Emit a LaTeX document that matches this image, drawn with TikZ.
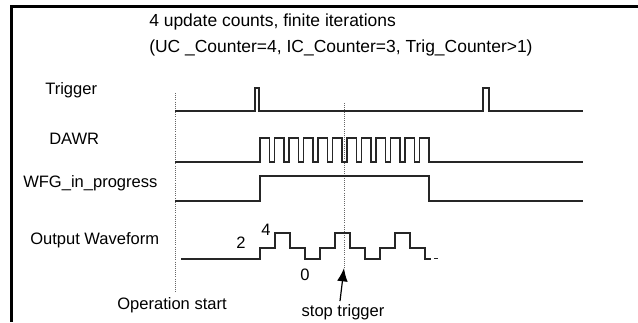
\documentclass[tikz,border=0pt]{standalone}
\usepackage{fontspec}
\setmainfont{Liberation Sans}
\usetikzlibrary{arrows.meta}

\begin{document}
\begin{tikzpicture}[x=0.75pt,y=-0.75pt]
        \tikzstyle{every node}=[font=\fontsize{12.4}{14}\selectfont,inner sep=0pt]
        \tikzstyle{titletext}=[anchor=west,font=\fontsize{13.1}{15}\selectfont]
        \tikzstyle{signame}=[anchor=west]
        \tikzstyle{wave}=[line width=0.9pt,black!85,line join=miter]
        \tikzstyle{marker}=[densely dotted,black!60,line width=0.6pt]
        \useasboundingbox (0,0) rectangle (638,322);
        \draw[line width=2.4pt] (638,6.5) -- (11.5,6.5) -- (11.5,322);
        % titles
        \node[titletext](title) at (149,22) {4 update counts, finite iterations};
        \node[titletext](counters) at (149,48) {(UC \_Counter=4, IC\_Counter=3, Trig\_Counter>1)};
        % signal names
        \node[signame](trig) at (45,90) {Trigger};
        \node[signame](dawr) at (49,139) {DAWR};
        \node[signame](wfg) at (23,183) {WFG\_in\_progress};
        \node[signame](out) at (30,240) {Output Waveform};
        % start and stop markers
        \coordinate (starttop) at (175,93);
        \coordinate (startbot) at (175,292);
        \coordinate (stoptop) at (344,103);
        \coordinate (stopbot) at (344,268);
        \draw[marker] (starttop) -- (startbot);
        \draw[marker] (stoptop) -- (stopbot);
        \node(opstart) at (172,305) {Operation start};
        \node(stoptxt) at (343,312) {stop trigger};
        \draw[-{Latex[length=10pt,width=8pt]},line width=0.9pt] ([shift={(-3,-3)}]stoptxt.north) -- (stopbot);
        % waveforms
        \draw[wave] (175,111) -- (255,111) |- (259,88) |- (483,111) |- (489,88) |- (583,111);
        \draw[wave] (175,162) foreach \k in {0,...,11} {
            -- ({260+14.5*\k},162) -- ({260+14.5*\k},138) -- ({269.5+14.5*\k},138) -- ({269.5+14.5*\k},162)
        } -- (583,162);
        \draw[wave] (175,201) -| (260,176) -| (429,201) -- (583,201);
        \draw[wave] (181,259) foreach \c in {0,1,2} {
            -- ({260+60*\c},259) -- ({260+60*\c},248) -- ({275+60*\c},248) -- ({275+60*\c},233)
            -- ({290+60*\c},233) -- ({290+60*\c},248) -- ({305+60*\c},248) -- ({305+60*\c},259)
        } -- (431,259);
        \draw[wave] (434,258.5) -- (438,258.5);
        % level values
        \node(lvtwo) at (241,243) {2};
        \node(lvfour) at (266,230) {4};
        \node(lvzero) at (305,275) {0};
    \end{tikzpicture}
\end{document}
